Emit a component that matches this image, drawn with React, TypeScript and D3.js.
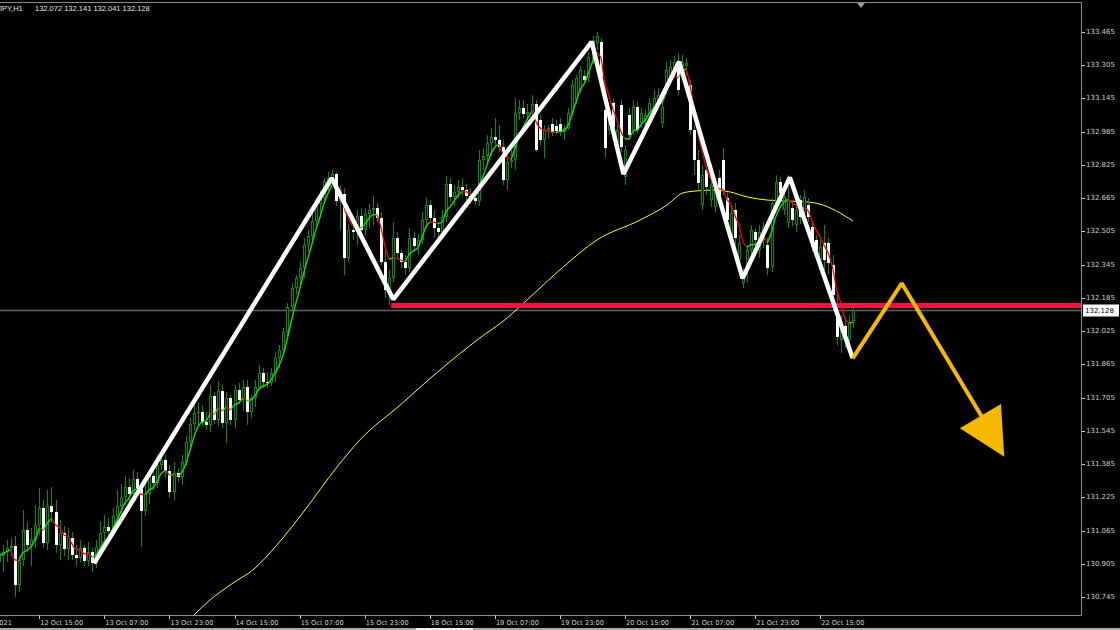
import React from "react";
import * as d3 from "d3";

// ---- EURJPY H1 candles (bar 0 = 12 Oct 05:00, bar 210 = 22 Oct 23:00) ----
const opens = [
  130.913, 130.942, 130.961, 130.981, 130.991, 130.803, 130.923, 131.068, 130.996, 131.020,
  131.092, 131.173, 131.006, 131.183, 131.154, 130.996, 131.054, 130.977, 131.029, 130.947,
  130.932, 130.981, 130.918, 130.961, 130.909, 130.986, 131.054, 131.082, 131.063, 131.135,
  131.183, 131.226, 131.275, 131.241, 131.314, 131.265, 131.159, 131.241, 131.328, 131.294,
  131.381, 131.405, 131.352, 131.251, 131.343, 131.323, 131.395, 131.491, 131.578, 131.630,
  131.635, 131.587, 131.573, 131.713, 131.597, 131.737, 131.583, 131.703, 131.597, 131.742,
  131.693, 131.756, 131.635, 131.703, 131.756, 131.824, 131.780, 131.776, 131.824, 131.895,
  131.934, 132.020, 132.141, 132.233, 132.280, 132.328, 132.440, 132.483, 132.555, 132.637,
  132.665, 132.747, 132.762, 132.782, 132.651, 132.685, 132.377, 132.512, 132.502, 132.579,
  132.512, 132.589, 132.608, 132.617, 132.569, 132.358, 132.223, 132.280, 132.473, 132.401,
  132.358, 132.328, 132.473, 132.435, 132.464, 132.560, 132.632, 132.569, 132.521, 132.502,
  132.574, 132.733, 132.670, 132.694, 132.718, 132.704, 132.675, 132.665, 132.651, 132.849,
  132.868, 132.931, 132.959, 132.945, 132.911, 132.752, 132.839, 132.849, 133.076, 133.099,
  133.071, 133.080, 133.119, 133.041, 132.945, 132.993, 133.022, 133.012, 133.022, 132.983,
  133.002, 133.076, 133.138, 133.186, 133.253, 133.243, 133.330, 133.412, 133.417, 133.090,
  132.993, 133.124, 132.921, 133.114, 132.767, 133.066, 132.993, 133.104, 133.026, 133.041,
  133.056, 133.104, 133.124, 133.026, 133.186, 133.243, 133.268, 133.320, 133.296, 133.301,
  133.210, 132.993, 132.849, 132.632, 132.801, 132.656, 132.622, 132.762, 132.849, 132.665,
  132.478, 132.608, 132.367, 132.257, 132.319, 132.416, 132.502, 132.416, 132.464, 132.440,
  132.334, 132.642, 132.743, 132.608, 132.546, 132.617, 132.536, 132.656, 132.598, 132.632,
  132.526, 132.464, 132.367, 132.449, 132.449, 132.343, 132.093, 131.982, 132.050, 131.982,
  132.072,
];
const highs = [
  130.971, 130.996, 131.020, 131.029, 131.039, 130.942, 131.164, 131.106, 131.077, 131.188,
  131.270, 131.212, 131.260, 131.275, 131.212, 131.116, 131.087, 131.077, 131.058, 130.996,
  131.020, 130.996, 131.010, 130.981, 131.020, 131.106, 131.140, 131.125, 131.173, 131.260,
  131.289, 131.328, 131.318, 131.357, 131.347, 131.284, 131.289, 131.357, 131.366, 131.429,
  131.443, 131.429, 131.381, 131.395, 131.366, 131.429, 131.520, 131.606, 131.669, 131.683,
  131.669, 131.635, 131.766, 131.732, 131.785, 131.766, 131.732, 131.718, 131.766, 131.776,
  131.790, 131.790, 131.718, 131.790, 131.862, 131.848, 131.828, 131.848, 131.924, 131.958,
  132.040, 132.161, 132.257, 132.295, 132.358, 132.473, 132.512, 132.598, 132.665, 132.704,
  132.762, 132.791, 132.801, 132.791, 132.728, 132.713, 132.541, 132.550, 132.608, 132.617,
  132.617, 132.637, 132.675, 132.642, 132.598, 132.416, 132.319, 132.550, 132.502, 132.416,
  132.392, 132.521, 132.502, 132.493, 132.598, 132.665, 132.656, 132.608, 132.550, 132.608,
  132.772, 132.762, 132.728, 132.752, 132.762, 132.733, 132.713, 132.704, 132.897, 132.906,
  132.969, 133.002, 133.051, 133.017, 132.945, 132.873, 132.897, 133.147, 133.138, 133.138,
  133.119, 133.162, 133.138, 133.066, 133.017, 133.017, 133.051, 133.041, 133.051, 133.017,
  133.099, 133.234, 133.258, 133.301, 133.282, 133.368, 133.446, 133.465, 133.436, 133.124,
  133.080, 133.147, 133.017, 133.138, 132.921, 133.099, 133.138, 133.128, 133.099, 133.090,
  133.147, 133.186, 133.195, 133.138, 133.320, 133.330, 133.349, 133.364, 133.354, 133.339,
  133.234, 133.017, 132.897, 132.825, 132.825, 132.762, 132.752, 132.801, 132.906, 132.694,
  132.632, 132.642, 132.488, 132.328, 132.440, 132.536, 132.521, 132.536, 132.550, 132.473,
  132.665, 132.776, 132.767, 132.704, 132.776, 132.656, 132.642, 132.680, 132.704, 132.665,
  132.560, 132.488, 132.464, 132.536, 132.473, 132.392, 132.199, 132.103, 132.079, 132.103,
  132.141,
];
const lows = [
  130.884, 130.865, 130.913, 130.942, 130.745, 130.769, 130.894, 130.961, 130.894, 130.981,
  131.044, 130.981, 130.971, 131.106, 130.957, 130.923, 130.942, 130.923, 130.923, 130.894,
  130.913, 130.894, 130.894, 130.865, 130.884, 130.961, 131.010, 131.029, 131.039, 131.097,
  131.135, 131.188, 131.202, 131.217, 131.241, 130.986, 131.135, 131.193, 131.260, 131.270,
  131.357, 131.318, 131.222, 131.212, 131.299, 131.284, 131.376, 131.462, 131.549, 131.573,
  131.568, 131.549, 131.539, 131.578, 131.568, 131.558, 131.486, 131.573, 131.558, 131.674,
  131.645, 131.573, 131.606, 131.659, 131.742, 131.751, 131.751, 131.761, 131.780, 131.848,
  131.910, 132.001, 132.117, 132.199, 132.233, 132.280, 132.406, 132.454, 132.536, 132.569,
  132.637, 132.704, 132.733, 132.627, 132.512, 132.295, 132.358, 132.464, 132.440, 132.483,
  132.488, 132.521, 132.536, 132.550, 132.343, 132.184, 132.151, 132.261, 132.377, 132.328,
  132.295, 132.309, 132.416, 132.392, 132.445, 132.521, 132.550, 132.473, 132.464, 132.483,
  132.550, 132.646, 132.627, 132.665, 132.675, 132.656, 132.637, 132.632, 132.627, 132.801,
  132.839, 132.868, 132.921, 132.887, 132.728, 132.704, 132.810, 132.801, 133.041, 133.051,
  133.041, 133.066, 132.887, 132.921, 132.858, 132.954, 132.964, 132.974, 132.964, 132.945,
  132.993, 133.061, 133.119, 133.172, 133.215, 133.224, 133.311, 133.378, 133.234, 132.863,
  132.969, 132.983, 132.897, 132.887, 132.728, 132.945, 132.969, 132.974, 133.002, 133.017,
  133.031, 133.080, 133.099, 133.002, 133.162, 133.224, 133.248, 133.162, 133.272, 133.258,
  132.969, 132.776, 132.704, 132.608, 132.680, 132.622, 132.598, 132.632, 132.680, 132.536,
  132.454, 132.440, 132.319, 132.233, 132.261, 132.387, 132.435, 132.377, 132.425, 132.295,
  132.309, 132.617, 132.665, 132.584, 132.521, 132.531, 132.502, 132.541, 132.569, 132.550,
  132.406, 132.377, 132.338, 132.319, 132.295, 132.175, 131.958, 131.920, 131.944, 131.958,
  132.041,
];
const closes = [
  130.942, 130.961, 130.981, 130.991, 130.803, 130.923, 131.068, 130.996, 131.020, 131.092,
  131.173, 131.006, 131.183, 131.154, 130.996, 131.054, 130.977, 131.029, 130.947, 130.932,
  130.981, 130.918, 130.961, 130.909, 130.986, 131.054, 131.082, 131.063, 131.135, 131.183,
  131.226, 131.275, 131.241, 131.314, 131.265, 131.159, 131.241, 131.328, 131.294, 131.381,
  131.405, 131.352, 131.251, 131.343, 131.323, 131.395, 131.491, 131.578, 131.630, 131.635,
  131.587, 131.573, 131.713, 131.597, 131.737, 131.583, 131.703, 131.597, 131.742, 131.693,
  131.756, 131.635, 131.703, 131.756, 131.824, 131.780, 131.776, 131.824, 131.895, 131.934,
  132.020, 132.141, 132.233, 132.280, 132.328, 132.440, 132.483, 132.555, 132.637, 132.665,
  132.747, 132.762, 132.782, 132.651, 132.685, 132.377, 132.512, 132.502, 132.579, 132.512,
  132.589, 132.608, 132.617, 132.569, 132.358, 132.223, 132.280, 132.473, 132.401, 132.358,
  132.328, 132.473, 132.435, 132.464, 132.560, 132.632, 132.569, 132.521, 132.502, 132.574,
  132.733, 132.670, 132.694, 132.718, 132.704, 132.675, 132.665, 132.651, 132.849, 132.868,
  132.931, 132.959, 132.945, 132.911, 132.752, 132.839, 132.849, 133.076, 133.099, 133.071,
  133.080, 133.119, 132.897, 132.945, 132.993, 133.002, 132.983, 132.988, 132.983, 133.002,
  133.076, 133.210, 133.243, 133.282, 133.234, 133.344, 133.426, 133.446, 133.248, 132.906,
  133.056, 133.007, 132.993, 132.911, 132.897, 132.969, 133.104, 132.993, 133.076, 133.066,
  133.124, 133.147, 133.162, 133.104, 133.282, 133.296, 133.320, 133.186, 133.320, 133.316,
  132.993, 132.849, 132.738, 132.776, 132.718, 132.728, 132.728, 132.656, 132.704, 132.560,
  132.594, 132.473, 132.449, 132.305, 132.416, 132.512, 132.464, 132.502, 132.526, 132.328,
  132.642, 132.743, 132.690, 132.670, 132.656, 132.560, 132.608, 132.574, 132.670, 132.574,
  132.430, 132.416, 132.430, 132.367, 132.353, 132.199, 131.997, 132.064, 131.982, 132.069,
  132.128,
];

// ---- long moving average (yellow) ----
const slowMaIdx = [48, 52, 57.6, 62.5, 68.4, 75.3, 83.2, 88.8, 98.7, 108.5, 118.3, 125, 129.9, 138.8, 147.1, 157.7, 164.3, 168.2, 171.7, 175.6, 179.8, 184, 188.9, 193.8, 198.7, 202.6, 206.8, 210];
const slowMaVal = [130.658, 130.731, 130.812, 130.875, 130.995, 131.164, 131.371, 131.501, 131.669, 131.838, 131.992, 132.088, 132.175, 132.334, 132.464, 132.56, 132.632, 132.69, 132.7, 132.704, 132.695, 132.671, 132.656, 132.651, 132.647, 132.632, 132.594, 132.555];

// ---- drawn annotations (bar index, price) ----
const zigIdx = [23.45, 81.9, 97.0, 145.8, 153.6, 167.3, 182.9, 194.5, 209.96];
const zigPrice = [130.907, 132.761, 132.178, 133.418, 132.781, 133.322, 132.279, 132.765, 131.894];
const arrowIdx = [209.96, 222.0, 241.7];
const arrowPrice = [131.894, 132.255, 131.613];
const headIdx = [236.3, 246.4, 247.2];
const headPrice = [131.557, 131.674, 131.420];
const supportStartIdx = 96.5;
const supportPrice = 132.148;

// ---- axes ----
const priceTicks = [133.465, 133.305, 133.145, 132.985, 132.825, 132.665, 132.505, 132.345, 132.185, 132.025, 131.865, 131.705, 131.545, 131.385, 131.225, 131.065, 130.905, 130.745];
const timeTickIdx = [-7, 10, 26, 42, 58, 74, 90, 106, 122, 138, 154, 170, 186, 202];
const timeTickLabels = ["12 Oct 2021", "12 Oct 15:00", "13 Oct 07:00", "13 Oct 23:00", "14 Oct 15:00", "15 Oct 07:00", "15 Oct 23:00", "18 Oct 15:00", "19 Oct 07:00", "19 Oct 23:00", "20 Oct 15:00", "21 Oct 07:00", "21 Oct 23:00", "22 Oct 15:00"];

const symbol = "EURJPY,H1";
const lastPrice = 132.128;

const FONT = "'DejaVu Sans', Verdana, sans-serif";
const HEAD_FONT = "'Liberation Sans', Arial, sans-serif";

export default function App() {
  const W = 1120;
  const H = 630;
  const plotRight = 1081;
  const plotTop = 2;
  const plotBottom = 615;

  const x = d3.scaleLinear().domain([0, 210]).range([-1.4, 852.9]);
  const y = d3.scaleLinear().domain([130.745, 133.465]).range([597, 32]);

  const N = closes.length;
  const period = 6;
  const fastMa = closes.map((_, i) => {
    let s = 0;
    let w = 0;
    for (let k = 0; k < period && i - k >= 0; k++) {
      const wt = period - k;
      s += closes[i - k] * wt;
      w += wt;
    }
    return s / w;
  });
  type Pt = { i: number; v: number };
  const runs: { up: boolean; pts: Pt[] }[] = [];
  let cur: { up: boolean; pts: Pt[] } | null = null;
  for (let i = 1; i < N; i++) {
    const up = fastMa[i] >= fastMa[i - 1];
    if (!cur || cur.up !== up) {
      cur = { up, pts: [{ i: i - 1, v: fastMa[i - 1] }] };
      runs.push(cur);
    }
    cur.pts.push({ i, v: fastMa[i] });
  }
  const maLine = d3
    .line<Pt>()
    .x((d) => x(d.i))
    .y((d) => y(d.v))
    .curve(d3.curveMonotoneX);

  const slowLine = d3
    .line<number>()
    .x((_, k) => x(slowMaIdx[k]))
    .y((d) => y(d))
    .curve(d3.curveMonotoneX);

  const zigPath = d3
    .line<number>()
    .x((d) => x(d))
    .y((_, k) => y(zigPrice[k]))(zigIdx);
  const arrowPath = d3
    .line<number>()
    .x((d) => x(d))
    .y((_, k) => y(arrowPrice[k]))(arrowIdx);
  const headPts = headIdx.map((d, k) => `${x(d)},${y(headPrice[k])}`).join(" ");

  const wickColor = "#0b8a0b";
  const candles = closes.map((c, i) => {
    const o = opens[i];
    const cx = Math.round(x(i));
    const top = Math.round(y(Math.max(o, c)));
    const bot = Math.round(y(Math.min(o, c)));
    const bh = Math.max(1, bot - top);
    const bull = c >= o;
    return (
      <g key={i}>
        <line x1={cx + 0.5} x2={cx + 0.5} y1={y(highs[i])} y2={y(lows[i])} stroke={wickColor} strokeWidth={1} />
        {bull ? (
          <>
            <rect x={cx - 1} y={top} width={3} height={bh} fill={wickColor} />
            {bh > 2 && <rect x={cx} y={top + 1} width={1} height={bh - 2} fill="#000" />}
          </>
        ) : (
          <rect x={cx - 1} y={top} width={3} height={bh} fill="#ffffff" />
        )}
      </g>
    );
  });

  const yLast = Math.round(y(lastPrice)) + 0.5;

  return (
    <svg
      width={W}
      height={H}
      style={{ position: "fixed", left: 0, top: 0, background: "#000", display: "block" }}
      fontFamily={FONT}
    >
      <defs>
        <clipPath id="plotClip">
          <rect x={0} y={plotTop} width={plotRight} height={plotBottom - plotTop} />
        </clipPath>
      </defs>
      <rect x={0} y={0} width={W} height={H} fill="#000" />

      <g clipPath="url(#plotClip)">
        <line x1={0} x2={plotRight} y1={yLast} y2={yLast} stroke="#5f6368" strokeWidth={1.5} />
        <path d={slowLine(slowMaVal) || ""} fill="none" stroke="#ffff00" strokeWidth={1} />
        {candles}
        {runs.map((r, k) => (
          <path key={k} d={maLine(r.pts) || ""} fill="none" stroke={r.up ? "#00f000" : "#ff0000"} strokeWidth={1.3} />
        ))}
        <line x1={x(supportStartIdx)} x2={plotRight} y1={y(supportPrice)} y2={y(supportPrice)} stroke="#f2143f" strokeWidth={5} />
        <path d={zigPath || ""} fill="none" stroke="#ffffff" strokeWidth={4.5} strokeLinejoin="bevel" />
        <path d={arrowPath || ""} fill="none" stroke="#f7b900" strokeWidth={4} strokeLinejoin="bevel" />
        <polygon points={headPts} fill="#f7b900" />
      </g>

      {/* frame */}
      <line x1={0} x2={plotRight + 0.5} y1={plotTop + 0.5} y2={plotTop + 0.5} stroke="#8a8a8a" />
      <line x1={plotRight + 0.5} x2={plotRight + 0.5} y1={plotTop} y2={plotBottom + 0.5} stroke="#8a8a8a" />
      <line x1={0} x2={plotRight + 0.5} y1={plotBottom + 0.5} y2={plotBottom + 0.5} stroke="#8a8a8a" />
      <polygon points="857,3 865,3 861,8" fill="#9a9a9a" />

      {/* price axis */}
      {priceTicks.map((p) => (
        <g key={p}>
          <line x1={plotRight + 1} x2={plotRight + 4} y1={Math.round(y(p)) + 0.5} y2={Math.round(y(p)) + 0.5} stroke="#c8c8c8" />
          <text x={plotRight + 5} y={y(p)} dominantBaseline="central" fontSize={7} fill="#d0d0d0">
            {p.toFixed(3)}
          </text>
        </g>
      ))}
      <rect x={plotRight + 2} y={yLast - 6} width={36} height={12} fill="#ffffff" />
      <text x={plotRight + 4} y={yLast} dominantBaseline="central" fontSize={7} fill="#000">
        {lastPrice.toFixed(3)}
      </text>

      {/* time axis */}
      {timeTickIdx.map((t, k) => (
        <g key={t}>
          <line x1={Math.round(x(t)) + 0.5} x2={Math.round(x(t)) + 0.5} y1={plotBottom} y2={plotBottom + 4} stroke="#c8c8c8" />
          <text x={x(t) + 1} y={625} fontSize={6.6} fill="#d0d0d0">
            {timeTickLabels[k]}
          </text>
        </g>
      ))}
      <rect x={0} y={628} width={W} height={2} fill="#a8a8a8" />
      <rect x={416} y={628} width={57} height={2} fill="#f0f0f0" />

      {/* header */}
      <text x={-17.5} y={11} fontSize={7.5} fill="#e6e6e6" fontFamily={HEAD_FONT}>
        {symbol}
      </text>
      <text x={35} y={11} fontSize={7.5} fill="#e6e6e6" fontFamily={HEAD_FONT} xmlSpace="preserve">
        {`${opens[N - 1].toFixed(3)} ${highs[N - 1].toFixed(3)} ${lows[N - 1].toFixed(3)} ${closes[N - 1].toFixed(3)}`}
      </text>
    </svg>
  );
}
